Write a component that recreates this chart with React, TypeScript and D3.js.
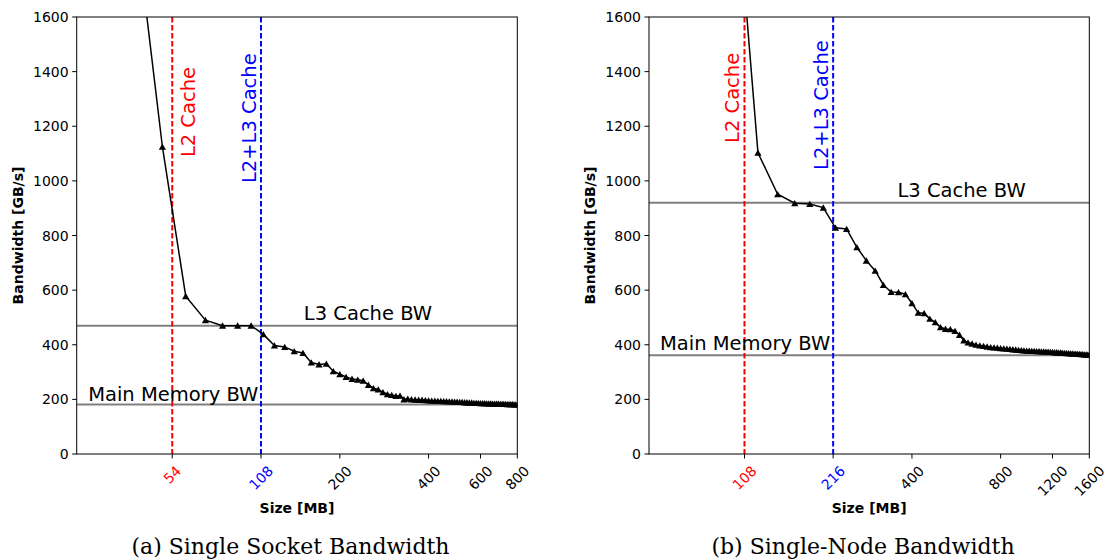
import React from "react";
import * as d3 from "d3";

// ---------- data ----------
const SIZES_A = [40, 50, 60, 70, 80, 90, 100, 110, 120, 130, 140, 150, 160, 170, 180, 190, 200, 210, 220, 230, 240, 250, 260, 270, 280, 290, 300, 310, 320, 330, 340, 350, 360, 370, 380, 390, 400, 410, 420, 430, 440, 450, 460, 470, 480, 490, 500, 510, 520, 530, 540, 550, 560, 570, 580, 590, 600, 610, 620, 630, 640, 650, 660, 670, 680, 690, 700, 710, 720, 730, 740, 750, 760, 770, 780, 790, 800];
const BW_A = [2000, 1125, 578, 490, 470, 470, 470, 438, 397, 392, 376, 370, 335, 328, 330, 303, 292, 282, 275, 272, 268, 253, 241, 236, 226, 219, 216, 212, 213, 200, 202, 200, 199, 198, 198, 197, 196, 195, 195, 194, 194, 193, 193, 192, 192, 191, 191, 190, 190, 189, 189, 188, 188, 187, 187, 187, 186, 186, 186, 185, 185, 185, 184, 184, 184, 184, 183, 183, 183, 183, 182, 182, 182, 182, 181, 181, 181];

const SIZES_B = [100, 120, 140, 160, 180, 200, 220, 240, 260, 280, 300, 320, 340, 360, 380, 400, 420, 440, 460, 480, 500, 520, 540, 560, 580, 600, 620, 640, 660, 680, 700, 720, 740, 760, 780, 800, 820, 840, 860, 880, 900, 920, 940, 960, 980, 1000, 1020, 1040, 1060, 1080, 1100, 1120, 1140, 1160, 1180, 1200, 1220, 1240, 1260, 1280, 1300, 1320, 1340, 1360, 1380, 1400, 1420, 1440, 1460, 1480, 1500, 1520, 1540, 1560, 1580, 1600];
const BW_B = [2150, 1103, 951, 918, 915, 902, 828, 824, 757, 708, 671, 619, 593, 592, 585, 552, 517, 515, 495, 482, 464, 458, 457, 450, 436, 416, 408, 404, 400, 397, 395, 393, 391, 390, 389, 387, 386, 385, 384, 383, 382, 381, 380, 379, 378, 378, 377, 377, 376, 376, 375, 375, 374, 374, 373, 373, 372, 372, 371, 371, 370, 370, 369, 369, 368, 368, 367, 367, 366, 366, 365, 365, 364, 364, 363, 363];

const X_TICKS_A = [54, 108, 200, 400, 600, 800];
const X_TICKS_B = [108, 216, 400, 800, 1200, 1600];
const Y_TICKS = [0, 200, 400, 600, 800, 1000, 1200, 1400, 1600];

const L2_A = 54, L23_A = 108, L3BW_A = 470, MEMBW_A = 181;
const L2_B = 108, L23_B = 216, L3BW_B = 920, MEMBW_B = 362;

const CAPTIONS = ["(a) Single Socket Bandwidth", "(b) Single-Node Bandwidth"];

// ---------- layout / style ----------
const TOP = 17, BOTTOM = 454;
const FONT = "DejaVu Sans, sans-serif";

type PanelProps = {
  id: string;
  left: number;
  right: number;
  domain: [number, number];
  sizes: number[];
  bw: number[];
  xTicks: number[];
  l2: number;
  l23: number;
  l3bw: number;
  membw: number;
  l3Label: { x: number; y: number };
  memLabel: { x: number; y: number };
  l2Offset: number;
  l2Bottom: number;
  l23Offset: number;
  l23Bottom: number;
  caption: string;
  captionX: number;
};

function Panel(p: PanelProps) {
  const x = d3.scaleLog().domain(p.domain).range([p.left, p.right]);
  const y = d3.scaleLinear().domain([0, 1600]).range([BOTTOM, TOP]);
  const pts = p.sizes.map((s, i) => [x(s), y(p.bw[i])] as [number, number]);
  const line = d3.line()(pts) || "";
  const tickColor = (t: number) => (t === p.l2 ? "#ff0000" : t === p.l23 ? "#0000ff" : "#000");
  const cx = (p.left + p.right) / 2;
  const cy = (TOP + BOTTOM) / 2;
  const tri = "M0,-3.3L3.6,3L-3.6,3Z";
  return (
    <g>
      <defs>
        <clipPath id={`clip-${p.id}`}>
          <rect x={p.left} y={TOP} width={p.right - p.left} height={BOTTOM - TOP} />
        </clipPath>
      </defs>
      <g clipPath={`url(#clip-${p.id})`}>
        <line x1={p.left} x2={p.right} y1={y(p.l3bw)} y2={y(p.l3bw)} stroke="#808080" strokeWidth={2} />
        <line x1={p.left} x2={p.right} y1={y(p.membw)} y2={y(p.membw)} stroke="#808080" strokeWidth={2} />
        <line x1={x(p.l2)} x2={x(p.l2)} y1={TOP} y2={BOTTOM} stroke="#ff0000" strokeWidth={2} strokeDasharray="5.5,2.5" />
        <line x1={x(p.l23)} x2={x(p.l23)} y1={TOP} y2={BOTTOM} stroke="#0000ff" strokeWidth={2} strokeDasharray="5.5,2.5" />
        <path d={line} fill="none" stroke="#000" strokeWidth={1.5} />
        {pts.map(([px, py], i) => (
          <path key={i} d={tri} transform={`translate(${px},${py})`} fill="#000" />
        ))}
      </g>
      {/* annotations */}
      <text x={x(p.l3Label.x)} y={y(p.l3Label.y)} fontFamily={FONT} fontSize={19.5} fill="#000">L3 Cache BW</text>
      <text x={x(p.memLabel.x)} y={y(p.memLabel.y)} fontFamily={FONT} fontSize={19.5} fill="#000">Main Memory BW</text>
      <text transform={`translate(${x(p.l2) + p.l2Offset},${y(p.l2Bottom)}) rotate(-90)`} fontFamily={FONT} fontSize={19.5} fill="#ff0000">L2 Cache</text>
      <text transform={`translate(${x(p.l23) + p.l23Offset},${y(p.l23Bottom)}) rotate(-90)`} fontFamily={FONT} fontSize={19.5} fill="#0000ff">L2+L3 Cache</text>
      {/* frame */}
      <rect x={p.left} y={TOP} width={p.right - p.left} height={BOTTOM - TOP} fill="none" stroke="#000" strokeWidth={1} />
      {/* y ticks */}
      {Y_TICKS.map((t) => (
        <g key={`y${t}`}>
          <line x1={p.left - 4.5} x2={p.left} y1={y(t)} y2={y(t)} stroke="#000" strokeWidth={1} />
          <text x={p.left - 8} y={y(t)} dy="0.36em" textAnchor="end" fontFamily={FONT} fontSize={14} fill="#000">{t}</text>
        </g>
      ))}
      {/* x ticks */}
      {p.xTicks.map((t) => {
        const s = String(t);
        const w = s.length * 0.636 * 14;
        const h = 16.3;
        const off = (w + h) / (2 * Math.SQRT2);
        return (
          <g key={`x${t}`}>
            <line x1={x(t)} x2={x(t)} y1={BOTTOM} y2={BOTTOM + 4.5} stroke="#000" strokeWidth={1} />
            <text
              transform={`translate(${x(t)},${BOTTOM + 8.5 + off}) rotate(-45)`}
              textAnchor="middle"
              dy="0.36em"
              fontFamily={FONT}
              fontSize={14}
              fill={tickColor(t)}
            >
              {s}
            </text>
          </g>
        );
      })}
      <text x={cx} y={513} textAnchor="middle" fontFamily={FONT} fontSize={14} fontWeight="bold" fill="#000">Size [MB]</text>
      <text transform={`translate(${p.left - 54},${cy}) rotate(-90)`} textAnchor="middle" fontFamily={FONT} fontSize={14} fontWeight="bold" fill="#000">Bandwidth [GB/s]</text>
      <text x={p.captionX} y={554} textAnchor="middle" fontFamily="DejaVu Serif, serif" fontSize={22} fill="#000">{p.caption}</text>
    </g>
  );
}

export default function App() {
  return (
    <svg width={1105} height={560} style={{ position: "absolute", left: 0, top: 0, background: "#fff" }}>
      <rect width={1105} height={560} fill="#fff" />
      <Panel
        id="a"
        left={76.7}
        right={517.3}
        domain={[25.6, 800]}
        sizes={SIZES_A}
        bw={BW_A}
        xTicks={X_TICKS_A}
        l2={L2_A}
        l23={L23_A}
        l3bw={L3BW_A}
        membw={MEMBW_A}
        l3Label={{ x: 151, y: 490 }}
        memLabel={{ x: 28, y: 194 }}
        l2Offset={22.5}
        l2Bottom={1087}
        l23Offset={-5}
        l23Bottom={992}
        caption={CAPTIONS[0]}
        captionX={290.5}
      />
      <Panel
        id="b"
        left={649}
        right={1089.3}
        domain={[51.2, 1600]}
        sizes={SIZES_B}
        bw={BW_B}
        xTicks={X_TICKS_B}
        l2={L2_B}
        l23={L23_B}
        l3bw={L3BW_B}
        membw={MEMBW_B}
        l3Label={{ x: 357, y: 941 }}
        memLabel={{ x: 55.8, y: 381 }}
        l2Offset={-5}
        l2Bottom={1139}
        l23Offset={-5}
        l23Bottom={1040}
        caption={CAPTIONS[1]}
        captionX={863}
      />
    </svg>
  );
}
